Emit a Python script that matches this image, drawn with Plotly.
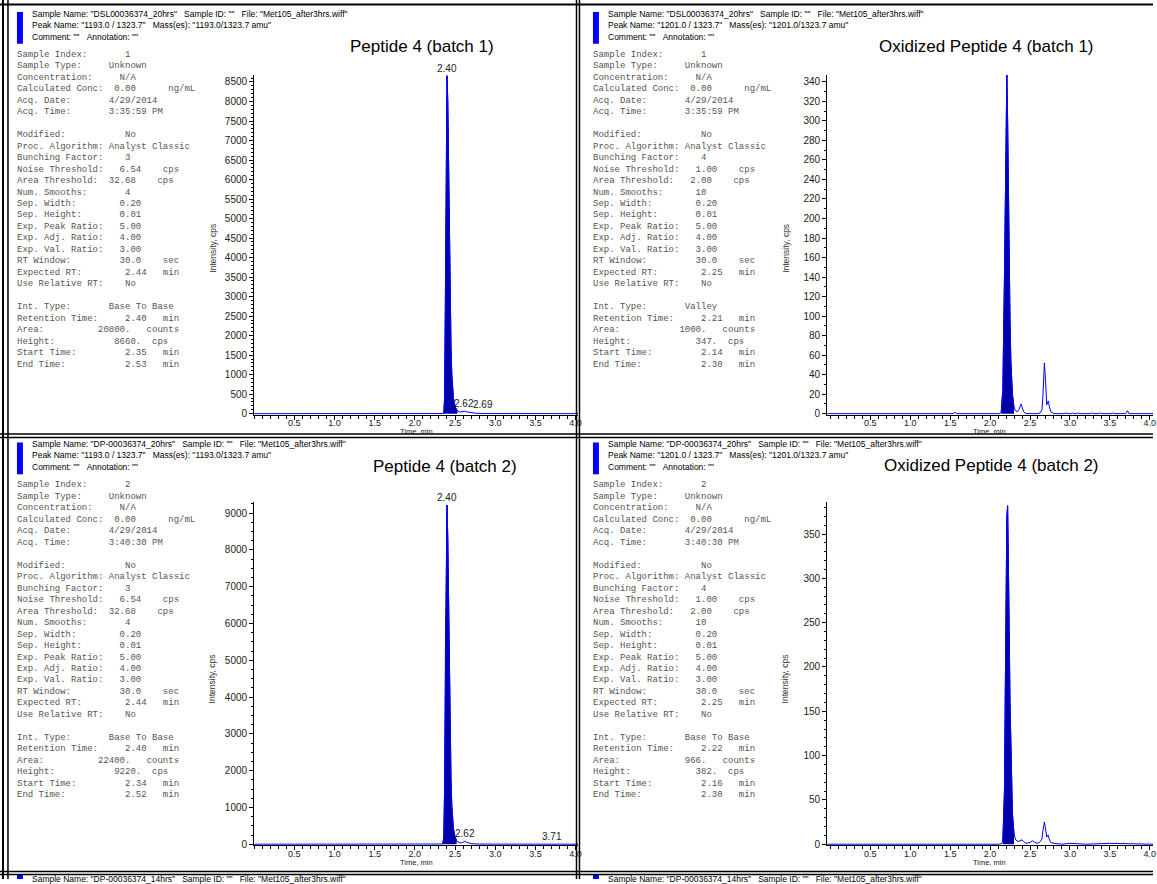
import plotly.graph_objects as go

W, H = 1157, 884

# ---------------- chromatogram data (time in min, intensity in cps) ----------------
# Peptide 4 (batch 1)
pep_b1_time = [0.00, 1.00, 2.00, 2.30, 2.35, 2.36, 2.37, 2.38, 2.39, 2.40, 2.41, 2.42, 2.43,
               2.44, 2.45, 2.46, 2.47, 2.48, 2.50, 2.53, 2.56, 2.59, 2.62, 2.65, 2.67, 2.69,
               2.72, 2.76, 2.85, 3.00, 3.50, 4.03]
pep_b1_int = [0, 0, 0, 0, 3, 20, 400, 2800, 6800, 8660, 8000, 6200, 4200,
              2700, 1700, 1000, 620, 400, 180, 70, 40, 45, 62, 45, 38, 42,
              25, 10, 3, 1, 0, 0]

# Oxidized Peptide 4 (batch 1)
ox_b1_time = [-0.04, 1.00, 1.54, 1.56, 1.58, 2.00, 2.12, 2.14, 2.16, 2.18, 2.19, 2.20, 2.21,
              2.22, 2.23, 2.24, 2.25, 2.26, 2.28, 2.30, 2.32, 2.34, 2.36, 2.38, 2.39, 2.40,
              2.42, 2.45, 2.60, 2.63, 2.65, 2.66, 2.67, 2.68, 2.69, 2.70, 2.71, 2.72, 2.73,
              2.74, 2.76, 2.80, 2.94, 2.95, 2.96, 3.02, 3.03, 3.04, 3.09, 3.10, 3.11, 3.27,
              3.28, 3.29, 3.37, 3.38, 3.39, 3.52, 3.53, 3.54, 3.70, 3.72, 3.74, 4.04]
ox_b1_int = [0, 0, 0, 1.5, 0, 0, 0, 2, 25, 140, 240, 320, 347,
             300, 220, 150, 95, 55, 20, 6, 3, 2, 4, 8, 10, 7,
             2, 0, 0, 1, 4, 15, 38, 52, 40, 18, 9, 12, 13,
             8, 2, 0, 0, 1, 0, 0, 1, 0, 0, 1, 0, 0,
             1, 0, 0, 1, 0, 0, 1, 0, 0, 3, 0, 0]

# Peptide 4 (batch 2)
pep_b2_time = [0.00, 1.00, 2.00, 2.30, 2.34, 2.35, 2.36, 2.37, 2.38, 2.39, 2.40, 2.41, 2.42,
               2.43, 2.44, 2.45, 2.46, 2.47, 2.48, 2.50, 2.52, 2.55, 2.58, 2.60, 2.62, 2.64,
               2.67, 2.70, 2.80, 3.60, 3.69, 3.71, 3.73, 3.80, 4.03]
pep_b2_int = [0, 0, 0, 0, 5, 30, 200, 1500, 5200, 8400, 9220, 8300, 6300,
              4300, 2800, 1750, 1050, 650, 420, 200, 90, 45, 35, 55, 80, 55,
              30, 15, 3, 0, 6, 12, 5, 0, 0]

# Oxidized Peptide 4 (batch 2)
ox_b2_time = [-0.04, 1.00, 2.00, 2.12, 2.15, 2.16, 2.18, 2.19, 2.20, 2.21, 2.22, 2.23, 2.24,
              2.25, 2.26, 2.27, 2.28, 2.30, 2.32, 2.35, 2.38, 2.40, 2.42, 2.45, 2.50, 2.53,
              2.56, 2.60, 2.63, 2.65, 2.66, 2.67, 2.68, 2.69, 2.70, 2.71, 2.72, 2.73, 2.74,
              2.76, 2.80, 2.90, 3.00, 3.20, 3.50, 4.04]
ox_b2_int = [0, 0, 0, 0, 1, 4, 60, 170, 300, 370, 382, 330, 240,
             160, 100, 60, 35, 12, 5, 3, 4, 5, 3, 1, 2, 4,
             2, 1, 3, 6, 14, 22, 25, 20, 11, 8, 10, 10, 6,
             2, 1, 0, 1, 0, 1, 0]

# integration windows (start, end) in min
pep_b1_window = (2.35, 2.53)
ox_b1_window = (2.14, 2.30)
pep_b2_window = (2.34, 2.52)
ox_b2_window = (2.16, 2.30)

# labelled retention times: (time, intensity, text)
pep_b1_labels = [(2.40, 8660, "2.40"), (2.62, 62, "2.62"), (2.69, 42, "2.69")]
pep_b2_labels = [(2.40, 9220, "2.40"), (2.62, 80, "2.62"), (3.71, 12, "3.71")]

x_tick_vals = [0.5, 1.0, 1.5, 2.0, 2.5, 3.0, 3.5, 4.0]
x_tick_text = ["0.5", "1.0", "1.5", "2.0", "2.5", "3.0", "3.5", "4.0"]

titles = ["Peptide 4 (batch 1)", "Oxidized Peptide 4 (batch 1)",
          "Peptide 4 (batch 2)", "Oxidized Peptide 4 (batch 2)"]

sample_names = ["DSL00036374_20hrs", "DSL00036374_20hrs", "DP-00036374_20hrs", "DP-00036374_20hrs"]
peak_names = ["1193.0 / 1323.7", "1201.0 / 1323.7", "1193.0 / 1323.7", "1201.0 / 1323.7"]
masses = ["1193.0/1323.7 amu", "1201.0/1323.7 amu", "1193.0/1323.7 amu", "1201.0/1323.7 amu"]
next_sample_name = "DP-00036374_14hrs"

# ---------------- report text blocks ----------------
# (label, column, alignment, unit, unit column)
rows = [
    ("Sample Index:", 21, "r", "", 0),
    ("Sample Type:", 17, "l", "", 0),
    ("Concentration:", 19, "l", "", 0),
    ("Calculated Conc:", 22, "r", "ng/mL", 28),
    ("Acq. Date:", 17, "l", "", 0),
    ("Acq. Time:", 17, "l", "", 0),
    None,
    ("Modified:", 20, "l", "", 0),
    ("Proc. Algorithm:", 17, "l", "", 0),
    ("Bunching Factor:", 21, "r", "", 0),
    ("Noise Threshold:", 23, "r", "cps", 27),
    ("Area Threshold:", 22, "r", "cps", 26),
    ("Num. Smooths:", 21, "r", "", 0),
    ("Sep. Width:", 23, "r", "", 0),
    ("Sep. Height:", 23, "r", "", 0),
    ("Exp. Peak Ratio:", 23, "r", "", 0),
    ("Exp. Adj. Ratio:", 23, "r", "", 0),
    ("Exp. Val. Ratio:", 23, "r", "", 0),
    ("RT Window:", 23, "r", "sec", 27),
    ("Expected RT:", 24, "r", "min", 27),
    ("Use Relative RT:", 20, "l", "", 0),
    None,
    ("Int. Type:", 17, "l", "", 0),
    ("Retention Time:", 24, "r", "min", 27),
    ("Area:", 21, "r", "counts", 24),
    ("Height:", 23, "r", "cps", 25),
    ("Start Time:", 24, "r", "min", 27),
    ("End Time:", 24, "r", "min", 27),
]

pep_b1_info = ["1", "Unknown", "N/A", "0.00", "4/29/2014", "3:35:59 PM", None, "No", "Analyst Classic",
               "3", "6.54", "32.68", "4", "0.20", "0.01", "5.00", "4.00", "3.00", "30.0", "2.44", "No",
               None, "Base To Base", "2.40", "20800.", "8660.", "2.35", "2.53"]
ox_b1_info = ["1", "Unknown", "N/A", "0.00", "4/29/2014", "3:35:59 PM", None, "No", "Analyst Classic",
              "4", "1.00", "2.00", "10", "0.20", "0.01", "5.00", "4.00", "3.00", "30.0", "2.25", "No",
              None, "Valley", "2.21", "1000.", "347.", "2.14", "2.30"]
pep_b2_info = ["2", "Unknown", "N/A", "0.00", "4/29/2014", "3:40:30 PM", None, "No", "Analyst Classic",
               "3", "6.54", "32.68", "4", "0.20", "0.01", "5.00", "4.00", "3.00", "30.0", "2.44", "No",
               None, "Base To Base", "2.40", "22400.", "9220.", "2.34", "2.52"]
ox_b2_info = ["2", "Unknown", "N/A", "0.00", "4/29/2014", "3:40:30 PM", None, "No", "Analyst Classic",
              "4", "1.00", "2.00", "10", "0.20", "0.01", "5.00", "4.00", "3.00", "30.0", "2.25", "No",
              None, "Base To Base", "2.22", "966.", "382.", "2.16", "2.30"]

# ---------------- styling ----------------
BLUE = "#0000FF"
FILL = "#0000A8"
MONO = "Liberation Mono, Courier New, monospace"
SANS = "Liberation Sans, Arial, sans-serif"
NB = "\u00a0"


def px(x):
    return x / W


def py(y):
    return 1 - y / H


panels = [
    dict(t=pep_b1_time, v=pep_b1_int, win=pep_b1_window, labels=pep_b1_labels, info=pep_b1_info,
         xdom=(255, 580), ydom=(417, 75), xr=[0, 4.03], yr=[-25, 8690], dtick=500, minor=100,
         ox=0, oy=0, tx=423, ty=47, lshift=[0, -1, 13]),
    dict(t=ox_b1_time, v=ox_b1_int, win=ox_b1_window, labels=[], info=ox_b1_info,
         xdom=(830, 1157), ydom=(417, 75), xr=[-0.04, 4.04], yr=[-1, 347.5], dtick=20, minor=10,
         ox=578, oy=0, tx=990, ty=47, lshift=[]),
    dict(t=pep_b2_time, v=pep_b2_int, win=pep_b2_window, labels=pep_b2_labels, info=pep_b2_info,
         xdom=(255, 580), ydom=(850, 505), xr=[0, 4.03], yr=[-27, 9297], dtick=1000, minor=250,
         ox=0, oy=433, tx=447, ty=469, lshift=[0, 0, 0]),
    dict(t=ox_b2_time, v=ox_b2_int, win=ox_b2_window, labels=[], info=ox_b2_info,
         xdom=(830, 1157), ydom=(850, 505), xr=[-0.04, 4.04], yr=[-1.1, 386], dtick=50, minor=10,
         ox=578, oy=433, tx=995, ty=468, lshift=[]),
]

fig = go.Figure()
annotations = []
shapes = []


def text(x, y, s, size, color="#000", family=SANS, xanchor="left", yanchor="middle", angle=0):
    annotations.append(dict(x=px(x), y=py(y), xref="paper", yref="paper", text=s, showarrow=False,
                            font=dict(size=size, color=color, family=family),
                            xanchor=xanchor, yanchor=yanchor, textangle=angle,
                            borderpad=0))


for k, p in enumerate(panels, start=1):
    xa = "x" if k == 1 else f"x{k}"
    ya = "y" if k == 1 else f"y{k}"
    s, e = p["win"]
    ft = [t for t in p["t"] if s <= t <= e]
    fv = [v for t, v in zip(p["t"], p["v"]) if s <= t <= e]
    fig.add_trace(go.Scatter(x=ft, y=fv, mode="lines", fill="tozeroy", fillcolor=FILL,
                             line=dict(color=FILL, width=1), xaxis=xa, yaxis=ya,
                             hoverinfo="skip", showlegend=False))
    fig.add_trace(go.Scatter(x=p["t"], y=p["v"], mode="lines", line=dict(color=BLUE, width=1),
                             xaxis=xa, yaxis=ya, showlegend=False))
    axis_common = dict(showline=True, linecolor="black", linewidth=1, showgrid=False, zeroline=False,
                       ticks="outside", tickcolor="black", tickwidth=1)
    fig.layout[f"xaxis{'' if k == 1 else k}"] = dict(
        domain=[px(p["xdom"][0]), px(p["xdom"][1])], range=p["xr"], anchor=ya,
        tickmode="array", tickvals=x_tick_vals, ticktext=x_tick_text, ticklen=4,
        ticklabelstandoff=-4,
        tickfont=dict(size=9, color="#222", family=SANS),
        minor=dict(tickmode="linear", tick0=0, dtick=0.1, ticklen=3, ticks="outside", tickcolor="black"),
        **axis_common)
    fig.layout[f"yaxis{'' if k == 1 else k}"] = dict(
        domain=[py(p["ydom"][0]), py(p["ydom"][1])], range=p["yr"], anchor=xa,
        tickmode="linear", tick0=0, dtick=p["dtick"], ticklen=4,
        tickfont=dict(size=10, color="#222", family=SANS),
        minor=dict(tickmode="linear", tick0=0, dtick=p["minor"], ticklen=2, ticks="outside", tickcolor="black"),
        **axis_common)
    for (lt, lv, ls), sh in zip(p["labels"], p["lshift"]):
        annotations.append(dict(x=lt, y=lv, xref=xa, yref=ya, text=ls, showarrow=False,
                                font=dict(size=10, color="#222", family=SANS),
                                xanchor="center", yanchor="bottom", yshift=1, xshift=sh, borderpad=0))

    ox, oy = p["ox"], p["oy"]
    # axis titles
    xmid = 418 if k in (1, 3) else 993
    text(xmid, 434 + oy, "Time, min", 7.5, "#222", SANS, xanchor="center")
    text(213 + ox - (3 if k in (2, 4) else 0), 250 + oy, "Intensity, cps", 8.5, "#333", SANS,
         xanchor="center", angle=-90)
    # title
    text(p["tx"], p["ty"], titles[k - 1], 17, "#000", SANS, xanchor="center")
    # header
    hx = 31 + ox
    text(hx, 14 + oy, f'Sample Name: "{sample_names[k-1]}"{NB*3}Sample ID: ""{NB*3}File: "Met105_after3hrs.wiff"',
         8.5, "#000", SANS)
    text(hx, 25 + oy, f'Peak Name: "{peak_names[k-1]}"{NB*3}Mass(es): "{masses[k-1]}"', 8.5, "#000", SANS)
    text(hx, 37 + oy, f'Comment: ""{NB*3}Annotation: ""', 8.5, "#000", SANS)
    shapes.append(dict(type="rect", xref="paper", yref="paper", x0=px(17 + ox), x1=px(23 + ox),
                       y0=py(44 + oy), y1=py(12 + oy), fillcolor="#0000FF", line=dict(width=0)))
    # report block
    for i, (row, val) in enumerate(zip(rows, p["info"])):
        if row is None:
            continue
        label, col, align, unit, ucol = row
        line = label
        if align == "l":
            line = line.ljust(col) + val
        else:
            line = line.ljust(col - len(val)) + val
        if unit:
            line = line.ljust(ucol) + unit
        text(16.5 + ox, 55 + 11.55 * i + oy, line.replace(" ", NB), 9, "#555", MONO)

# cut-off header of the next row of the report
for ox in (0, 578):
    text(31 + ox, 884, f'Sample Name: "{next_sample_name}"{NB*3}Sample ID: ""{NB*3}File: "Met105_after3hrs.wiff"',
         8.5, "#000", SANS)
    shapes.append(dict(type="rect", xref="paper", yref="paper", x0=px(17 + ox), x1=px(23 + ox),
                       y0=py(884), y1=py(880), fillcolor="#0000FF", line=dict(width=0)))


# report frame lines (pixel positions)
def hline(y, w, x0=0, x1=W):
    shapes.append(dict(type="line", xref="paper", yref="paper", x0=px(x0), x1=px(x1), y0=py(y), y1=py(y),
                       line=dict(color="black", width=w), layer="above"))


def vline(x, w, y0=0, y1=H):
    shapes.append(dict(type="line", xref="paper", yref="paper", x0=px(x), x1=px(x), y0=py(y0), y1=py(y1),
                       line=dict(color="black", width=w), layer="above"))


hline(4.5, 2)
hline(436.5, 1.5)
hline(440, 1.5)
hline(876.5, 1.5)
hline(879.5, 1.5)
vline(3, 2)
vline(8, 1.5)
vline(578.5, 1.5)
vline(581.5, 1.5)

fig.update_layout(width=W, height=H, margin=dict(l=0, r=0, t=0, b=0), paper_bgcolor="white",
                  plot_bgcolor="white", showlegend=False, annotations=annotations, shapes=shapes)

fig.write_html("out.html")
